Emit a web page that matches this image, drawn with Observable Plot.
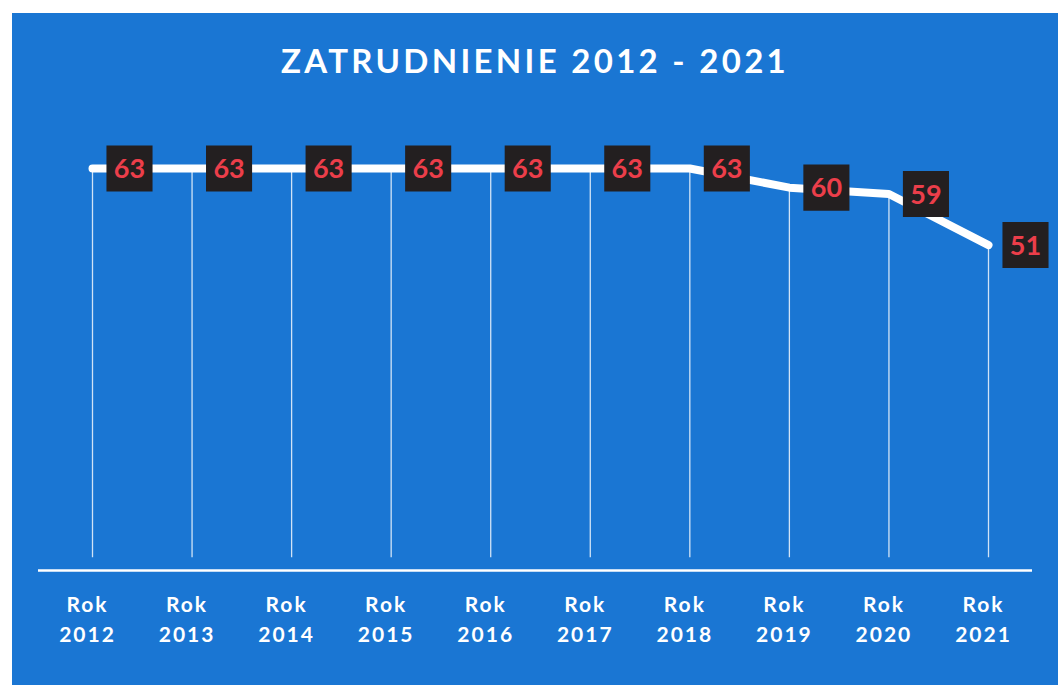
<!DOCTYPE html>
<html>
<head>
<meta charset="utf-8">
<script src="https://cdn.jsdelivr.net/npm/d3@7"></script>
<script src="https://cdn.jsdelivr.net/npm/@observablehq/plot@0.6"></script>
<style>
  html, body { margin: 0; padding: 0; background: #ffffff; width: 1058px; height: 685px; overflow: hidden; }
  #panel { position: absolute; left: 12px; top: 13px; width: 1046px; height: 672px; background: #1a76d3; }
  #title { height: 100px; box-sizing: border-box; padding-top: 27px; text-align: center; color: #fff;
           font-family: Lato, "Open Sans", sans-serif; font-weight: 700; font-size: 33px; letter-spacing: 3.3px; }
  #chart svg { display: block; }
  g[aria-label="x-axis tick label"] text { letter-spacing: 2px; }
</style>
</head>
<body>
<div id="panel">
  <div id="title">ZATRUDNIENIE 2012 - 2021</div>
  <div id="chart"></div>
</div>
<script>
const years = [2012, 2013, 2014, 2015, 2016, 2017, 2018, 2019, 2020, 2021];
const values = [63, 63, 63, 63, 63, 63, 63, 60, 59, 51];
const tickPrefix = "Rok";

const data = years.map((year, i) => ({year, value: values[i]}));

const chart = Plot.plot({
  width: 1046,
  height: 572,
  marginLeft: 80,
  marginRight: 70,
  marginTop: 55,
  marginBottom: 115,
  style: {background: "transparent", fontFamily: "Lato, 'Open Sans', sans-serif", overflow: "visible"},
  x: {domain: [years[0], years[years.length - 1]], label: null},
  y: {domain: [0, 63], axis: null},
  marks: [
    Plot.ruleX(data, {x: "year", y1: 2, y2: "value", stroke: "#ffffff", strokeWidth: 1.3, strokeOpacity: 0.8}),
    Plot.ruleY([0], {stroke: "#ffffff", strokeWidth: 2.5, insetLeft: -54, insetRight: -44}),
    Plot.line(data, {x: "year", y: "value", stroke: "#ffffff", strokeWidth: 8, strokeLinecap: "round", strokeLinejoin: "round"}),
    Plot.dot(data, {x: "year", y: "value", symbol: "square", r: 26, fill: "#231f20", stroke: "none", dx: 37}),
    Plot.text(data, {x: "year", y: "value", text: d => String(d.value), dx: 37, dy: 1, fill: "#ec3e4a", fontSize: 27, fontWeight: "bold"}),
    Plot.axisX({
      ticks: years,
      tickFormat: d => `${tickPrefix}\n${d}`,
      tickSize: 0,
      tickPadding: 20,
      fontSize: 21,
      fontWeight: "bold",
      lineHeight: 1.43,
      fill: "#ffffff",
      dx: -5,
      label: null
    })
  ]
});
document.getElementById("chart").appendChild(chart);
</script>
</body>
</html>
